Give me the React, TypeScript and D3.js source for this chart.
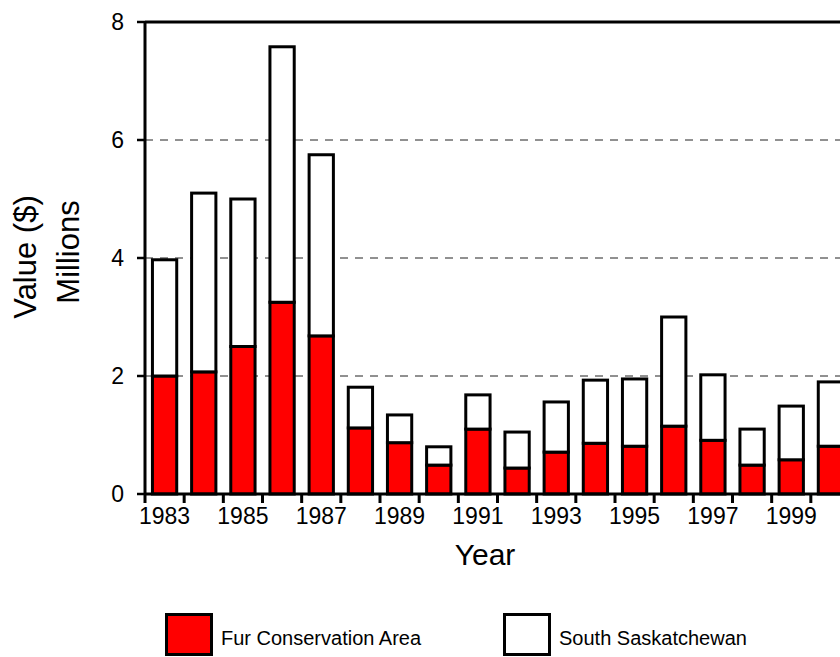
import React, { useEffect, useRef } from 'react';
import * as d3 from 'd3';

// values in millions of dollars
const years = ['1983', '1984', '1985', '1986', '1987', '1988', '1989', '1990', '1991',
  '1992', '1993', '1994', '1995', '1996', '1997', '1998', '1999', '2000'];
const furConservation = [2.0, 2.07, 2.5, 3.25, 2.68, 1.12, 0.87, 0.49, 1.1,
  0.44, 0.71, 0.86, 0.81, 1.15, 0.91, 0.49, 0.58, 0.81];
const southSaskatchewan = [1.97, 3.03, 2.5, 4.33, 3.07, 0.69, 0.47, 0.31, 0.58,
  0.61, 0.85, 1.07, 1.14, 1.85, 1.11, 0.61, 0.91, 1.09];
const seriesNames = ['Fur Conservation Area', 'South Saskatchewan'];
const seriesColors = ['#ff0000', '#ffffff'];
const yTicks = [0, 2, 4, 6, 8];
const gridValues = [2, 4, 6];

const FONT = 'Arial, "Liberation Sans", Helvetica, sans-serif';

const App = () => {
  const ref = useRef<SVGSVGElement | null>(null);

  useEffect(() => {
    if (!ref.current) return;
    const svg = d3.select(ref.current);
    svg.selectAll('*').remove();

    const left = 145;
    const right = 850;
    const top = 22;
    const bottom = 494;

    const x = d3.scaleBand<string>()
      .domain(years)
      .range([left, right])
      .paddingInner(0.38)
      .paddingOuter(0.19);

    const y = d3.scaleLinear().domain([0, 8]).range([bottom, top]);

    const rows = years.map((yr, i) => ({ year: yr, fur: furConservation[i], south: southSaskatchewan[i] }));
    const stacked = d3.stack<any>().keys(['fur', 'south'])(rows);

    // dashed gridlines
    svg.append('g')
      .selectAll('line')
      .data(gridValues)
      .enter()
      .append('line')
      .attr('x1', left)
      .attr('x2', 840)
      .attr('y1', d => y(d))
      .attr('y2', d => y(d))
      .attr('stroke', '#222')
      .attr('stroke-width', 1)
      .attr('stroke-dasharray', '8,7');

    // frame top + right
    svg.append('path')
      .attr('d', `M${left},${y(8)}H${right}V${y(0)}`)
      .attr('fill', 'none')
      .attr('stroke', '#000')
      .attr('stroke-width', 3);

    // bars
    stacked.forEach((layer, li) => {
      svg.append('g')
        .selectAll('rect')
        .data(layer)
        .enter()
        .append('rect')
        .attr('x', d => x(d.data.year) as number)
        .attr('width', x.bandwidth())
        .attr('y', d => y(d[1]))
        .attr('height', d => y(d[0]) - y(d[1]))
        .attr('fill', seriesColors[li])
        .attr('stroke', '#000')
        .attr('stroke-width', 3);
    });

    // axes lines
    svg.append('line')
      .attr('x1', left).attr('x2', left)
      .attr('y1', y(8)).attr('y2', bottom + 9)
      .attr('stroke', '#000').attr('stroke-width', 3);
    svg.append('line')
      .attr('x1', left).attr('x2', right)
      .attr('y1', bottom).attr('y2', bottom)
      .attr('stroke', '#000').attr('stroke-width', 3);

    // y ticks + labels
    const yAxis = svg.append('g');
    yAxis.selectAll('line')
      .data(yTicks)
      .enter()
      .append('line')
      .attr('x1', left - 8).attr('x2', left)
      .attr('y1', d => y(d)).attr('y2', d => y(d))
      .attr('stroke', '#000').attr('stroke-width', 2.5);
    yAxis.selectAll('text')
      .data(yTicks)
      .enter()
      .append('text')
      .attr('x', 124)
      .attr('y', d => y(d) + 8)
      .attr('text-anchor', 'end')
      .style('font-family', FONT)
      .style('font-size', '23px')
      .text(d => d);

    // x ticks at band boundaries
    const half = (x.step() - x.bandwidth()) / 2;
    const bounds = years.map(yr => (x(yr) as number) + x.bandwidth() + half);
    svg.append('g')
      .selectAll('line')
      .data(bounds)
      .enter()
      .append('line')
      .attr('x1', d => d).attr('x2', d => d)
      .attr('y1', bottom).attr('y2', bottom + 9)
      .attr('stroke', '#000').attr('stroke-width', 3);

    svg.append('g')
      .selectAll('text')
      .data(years.filter((_, i) => i % 2 === 0))
      .enter()
      .append('text')
      .attr('x', d => (x(d) as number) + x.bandwidth() / 2)
      .attr('y', 524)
      .attr('text-anchor', 'middle')
      .style('font-family', FONT)
      .style('font-size', '23px')
      .text(d => d);

    // axis titles
    svg.append('text')
      .attr('transform', 'translate(36,257) rotate(-90)')
      .attr('text-anchor', 'middle')
      .style('font-family', FONT)
      .style('font-size', '31px')
      .text('Value ($)');
    svg.append('text')
      .attr('transform', 'translate(79,252) rotate(-90)')
      .attr('text-anchor', 'middle')
      .style('font-family', FONT)
      .style('font-size', '31px')
      .text('Millions');
    svg.append('text')
      .attr('x', 485)
      .attr('y', 565)
      .attr('text-anchor', 'middle')
      .style('font-family', FONT)
      .style('font-size', '30px')
      .text('Year');

    // legend
    const legendX = [165, 503];
    seriesNames.forEach((name, i) => {
      svg.append('rect')
        .attr('x', legendX[i] + 1.5)
        .attr('y', 614.5)
        .attr('width', 45)
        .attr('height', 40)
        .attr('fill', seriesColors[i])
        .attr('stroke', '#000')
        .attr('stroke-width', 3);
      svg.append('text')
        .attr('x', legendX[i] + 56)
        .attr('y', 645)
        .style('font-family', FONT)
        .style('font-size', '20px')
        .text(name);
    });
  }, []);

  return (
    <svg
      ref={ref}
      width={840}
      height={657}
      style={{ position: 'absolute', left: 0, top: 0, background: '#fff' }}
    />
  );
};

export default App;
